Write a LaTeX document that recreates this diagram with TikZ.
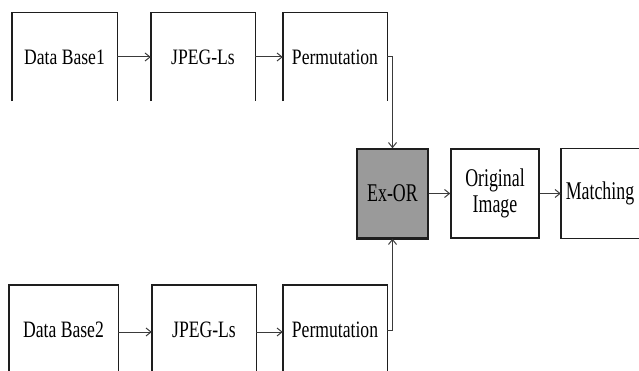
\documentclass[tikz,border=0pt]{standalone}
\usepackage{fontspec}
\setmainfont{Liberation Serif}
\newfontfamily\topfont{Liberation Serif}[FakeStretch=0.8]
\newfontfamily\botfont{Liberation Serif}[FakeStretch=0.75]
\newfontfamily\midfont{Liberation Serif}[FakeStretch=0.7]
\usetikzlibrary{arrows.meta}
\definecolor{boxline}{HTML}{1E1E1E}
\definecolor{arrowline}{HTML}{3A3A3A}
\definecolor{xorfill}{HTML}{9A9A9A}
\tikzset{
  toprow/.style={inner sep=0pt, minimum width=104pt, minimum height=88pt, font=\topfont\fontsize{22}{24}\selectfont},
  botrow/.style={inner sep=0pt, minimum width=104pt, minimum height=90pt, font=\botfont\fontsize{23.5}{26}\selectfont},
  midbox/.style={inner sep=0pt, minimum height=89pt, align=center, font=\midfont\fontsize{25.5}{26}\selectfont},
  side/.style={draw=boxline, line width=1.4pt},
  flow/.style={draw=arrowline, line width=1pt, -{Straight Barb[length=5pt,width=8pt]}},
}
\begin{document}
\begin{tikzpicture}[x=1pt,y=-1pt]
\useasboundingbox (0,0) rectangle (639,371);
\clip (0,0) rectangle (639,371);
\fill[white] (0,0) rectangle (639,371);
% top row
\node[toprow, minimum width=105pt] (d1) at (64.5,57) {Data Base1};
\node[toprow] (j1) at (203,57) {JPEG-Ls};
\node[toprow] (p1) at (335,57) {Permutation};
% bottom row
\node[botrow, minimum width=109pt] (d2) at (63.5,330) {Data Base2};
\node[botrow] (j2) at (204,330) {JPEG-Ls};
\node[botrow] (p2) at (335,330) {Permutation};
% middle
\node[midbox, minimum width=71pt, fill=xorfill, draw=boxline, line width=1.4pt] (x) at (392.5,193.5) {Ex-OR};
\node[midbox, minimum width=88pt, draw=boxline, line width=1.4pt] (o) at (495,193.5) {Original\\Image};
\node[midbox, minimum width=100pt] (m) at (611,193.5) {\hspace*{-22pt}Matching};
% open box sides
\foreach \n in {d1,j1,p1,d2,j2,p2}{
  \draw[side] (\n.south west) |- (\n.north east) -- (\n.south east);
}
\draw[side] (m.north east) -- (m.north west) -- (m.south west) -- (m.south east);
\draw[boxline, line width=2.2pt] (x.south west) -- (x.south east);
% connectors
\draw[flow] (d1) -- (j1);
\draw[flow] (j1) -- (p1);
\draw[flow] (d2.east |- 0,332) -- (j2.west |- 0,332);
\draw[flow] (j2.east |- 0,332) -- (p2.west |- 0,332);
\draw[flow] (p1.east) -| (x.north);
\draw[flow] (p2.east) -| (x.south);
\draw[flow] (x) -- (o);
\draw[flow] (o) -- (m.west);
\end{tikzpicture}
\end{document}
